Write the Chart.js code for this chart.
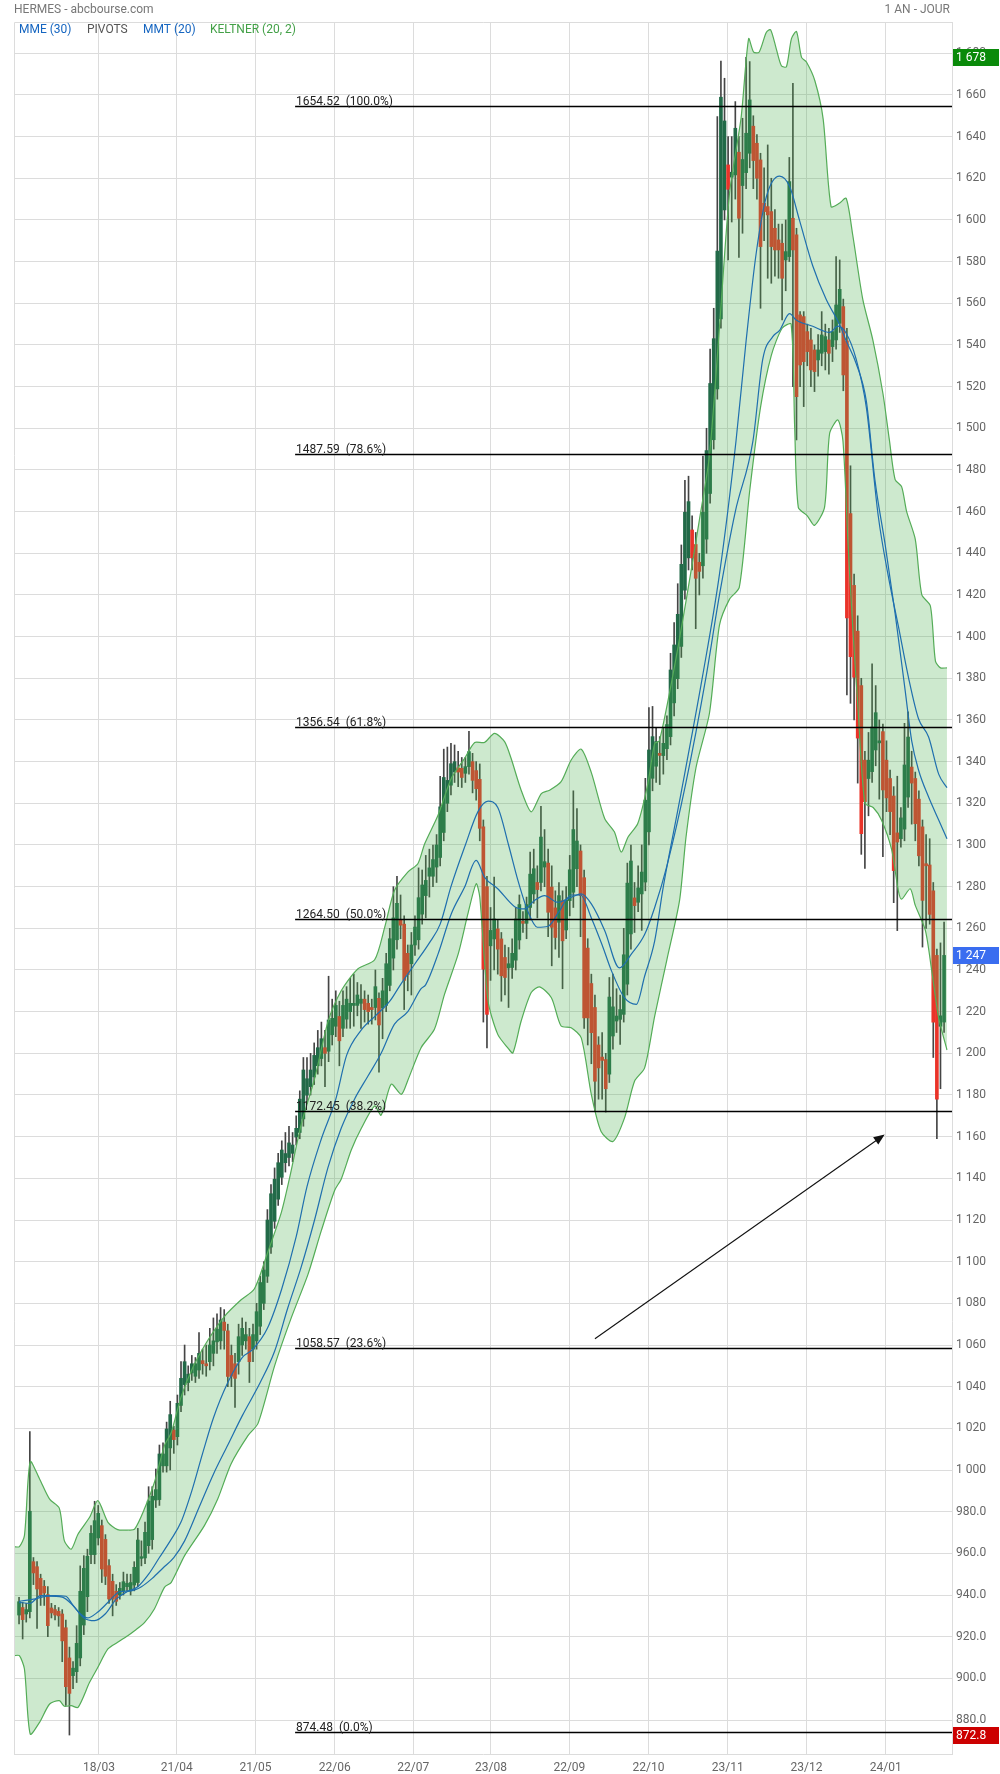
<!DOCTYPE html>
<html>
<head>
<meta charset="utf-8">
<title>HERMES - abcbourse.com</title>
<script src="https://cdn.jsdelivr.net/npm/chart.js@4.4.0/dist/chart.umd.min.js"></script>
<style>
  html, body { margin: 0; padding: 0; background: #fff; }
  #wrap { width: 1000px; height: 1774px; }
</style>
</head>
<body>
<div id="wrap"><canvas id="chart" width="1000" height="1774"></canvas></div>
<script>
// daily candles, one year
const openP = [
  930.4, 934, 930.9, 932, 956, 953.6, 948, 944.2, 940.2, 933.8,
  933, 932.2, 930.9, 924.3, 909.8, 901.3, 903.2, 909.8, 925.6, 939.2,
  959.4, 959.4, 967.4, 973.3, 966.7, 954.1, 946.6, 941.8, 940, 941.8,
  944, 942, 944.8, 946, 957.6, 957.8, 963.7, 966.6, 985.6, 985.8,
  1002, 1002, 1010.6, 1019.2, 1016, 1031, 1041, 1042, 1046.6, 1045,
  1048, 1052.5, 1051, 1052, 1056, 1061.5, 1062, 1071, 1066.8, 1055,
  1051, 1052, 1060, 1062, 1064, 1058, 1062, 1069, 1080, 1093,
  1107, 1119.4, 1130, 1140.5, 1147.5, 1150, 1152, 1159.8, 1162, 1168.5,
  1179.9, 1184, 1188.7, 1194, 1197.5, 1202.7, 1201, 1208.9, 1213, 1217.7,
  1212, 1216.4, 1220, 1223, 1223, 1224, 1226, 1224, 1222, 1222,
  1226.4, 1221.7, 1223, 1232.6, 1245.7, 1254.5, 1264, 1262, 1248, 1243,
  1252, 1254.5, 1266.8, 1275.7, 1285, 1285, 1289.4, 1294, 1306, 1320,
  1328.7, 1335, 1337, 1336.8, 1334.4, 1337.6, 1340, 1335.7, 1331.5, 1308.7,
  1280, 1251.6, 1254.9, 1259.7, 1254.9, 1246, 1241, 1241.2, 1244.7, 1254.4,
  1263.4, 1262.4, 1270, 1276.5, 1282, 1282, 1289.4, 1291.3, 1279.8, 1269.8,
  1262.9, 1273.3, 1259.2, 1273.3, 1277.3, 1288.6, 1297.1, 1284.3, 1250.5, 1233.5,
  1222, 1204, 1198.2, 1197, 1190, 1208.3, 1215.5, 1216.3, 1218.7, 1233.2,
  1257.3, 1274.6, 1272.5, 1276.5, 1282.2, 1306.3, 1332, 1337.8, 1344, 1342.9,
  1346.2, 1352, 1368.2, 1379.8, 1395.3, 1422.3, 1437.8, 1451.2, 1444.2, 1435.7,
  1434, 1446.8, 1468.7, 1494.5, 1518.9, 1552.5, 1604.8, 1626.4, 1620.5, 1621.6,
  1632.5, 1616.5, 1622.7, 1632, 1645, 1636.8, 1628.8, 1608, 1606.4, 1604,
  1596, 1590.4, 1588.8, 1580.8, 1582.4, 1600.8, 1592.8, 1554.4, 1553.6, 1546.4,
  1542.4, 1537.6, 1532.8, 1536, 1536.8, 1542.4, 1539.2, 1542.4, 1550.4, 1558.4,
  1542, 1459, 1424.6, 1402.6, 1376.5, 1340.7, 1331.9, 1335.2, 1345.6, 1349,
  1354.4, 1340.7, 1331.9, 1323.5, 1305.8, 1303, 1307.6, 1323, 1337.4, 1331.9,
  1322, 1308.7, 1291, 1290.4, 1278, 1247, 1213, 1215
];
const highP = [
  938.9, 936.5, 936, 1018.4, 958, 956, 950, 947, 944, 936,
  935, 934, 933, 928, 915, 908, 925.3, 954, 958.9, 962,
  973.3, 985, 983, 976, 969, 957, 950, 945, 946, 951,
  950, 950, 956, 972, 966, 975, 992, 992, 1000.5, 1012,
  1013, 1023, 1033, 1021, 1036, 1052, 1060, 1050, 1055, 1054,
  1066, 1058, 1060, 1068, 1073, 1075, 1078, 1077, 1070, 1060,
  1056, 1070, 1073, 1071, 1068, 1070, 1080, 1093, 1100, 1125,
  1137, 1145, 1152, 1158, 1162, 1165, 1162, 1170, 1182, 1198,
  1198, 1200, 1205, 1211, 1215, 1211, 1237, 1226, 1230, 1225,
  1230, 1232, 1236, 1238, 1234, 1233, 1230, 1228, 1226, 1240,
  1229, 1236, 1248, 1260, 1280, 1285, 1276, 1266, 1252, 1258,
  1266, 1289, 1288, 1295, 1298, 1300, 1305, 1333, 1346, 1347,
  1348.8, 1348, 1345, 1342, 1342, 1354.5, 1344, 1340, 1338.9, 1312,
  1285, 1270, 1284.6, 1264, 1258, 1252, 1250.8, 1255, 1270, 1276,
  1268, 1275, 1296.6, 1298, 1290, 1318.6, 1307.4, 1298, 1290, 1278,
  1282, 1278, 1280, 1295, 1326, 1317.5, 1300, 1288, 1255, 1238,
  1228, 1208, 1210, 1200, 1236.4, 1238, 1231, 1228, 1260, 1291.3,
  1300, 1282, 1290, 1300, 1332, 1366, 1366.5, 1356, 1352, 1356,
  1362, 1392, 1406.8, 1425.4, 1444, 1475, 1477, 1458, 1450, 1440,
  1486.7, 1500, 1538, 1557.6, 1649.6, 1676.2, 1668, 1640, 1640, 1656.8,
  1640, 1648.8, 1678, 1676, 1650, 1641, 1632, 1625, 1636, 1620,
  1605, 1598, 1598, 1600, 1630, 1665.6, 1596, 1556, 1556, 1550,
  1548, 1540, 1545, 1556, 1550, 1548, 1552, 1582.4, 1580.8, 1562,
  1548, 1482, 1430, 1410, 1380, 1345, 1354, 1387, 1376.5, 1360,
  1358, 1350, 1336, 1328, 1333, 1318, 1358.4, 1363.9, 1345, 1335,
  1326, 1312, 1305, 1303, 1282, 1250, 1253, 1263
];
const lowP = [
  926.1, 918.9, 927, 929, 945, 924, 935, 935, 920, 929,
  928, 925, 908, 887, 872.8, 895, 898, 906, 921, 932,
  955, 955, 964, 946, 945, 936, 930, 935, 938, 940,
  942, 940, 942, 944, 954, 955, 960, 962, 982, 983,
  999, 999, 1000, 1008, 1012, 1028, 1036, 1038, 1043, 1042,
  1044, 1046, 1045, 1048, 1050, 1056, 1058, 1058, 1040, 1040,
  1030, 1046, 1055, 1058, 1042, 1052, 1058, 1065, 1077, 1090,
  1104, 1116, 1127, 1137, 1143, 1146, 1148, 1156, 1159, 1165,
  1176, 1180, 1185, 1190, 1194, 1184, 1196, 1204, 1208, 1194,
  1208, 1212, 1212, 1213, 1218, 1212, 1215, 1214, 1214, 1216,
  1191, 1207, 1220, 1230, 1240, 1250, 1255, 1221, 1230, 1228,
  1247, 1250, 1262, 1265, 1275, 1280, 1282, 1290, 1302, 1316,
  1324, 1330, 1328, 1327.6, 1330, 1334, 1325, 1321.5, 1302, 1215,
  1202.6, 1235, 1240, 1238, 1225, 1228, 1222, 1236, 1240, 1250,
  1258, 1255, 1264, 1272, 1265, 1278, 1280, 1256, 1242, 1250,
  1246, 1231, 1255, 1266, 1270, 1280, 1256, 1212, 1204, 1195,
  1172, 1178, 1178, 1171.8, 1186, 1202, 1210, 1204.3, 1215, 1228,
  1250, 1258, 1268, 1259, 1278, 1300, 1326, 1330, 1329, 1334,
  1341, 1348, 1362, 1375, 1390, 1418, 1432, 1432, 1403.8, 1420,
  1428, 1440, 1464, 1490, 1514, 1548, 1600, 1580.8, 1599, 1610,
  1582, 1593.6, 1615, 1625, 1615, 1610, 1557.6, 1590, 1572, 1569.6,
  1573, 1572, 1552, 1566, 1580, 1520, 1494.4, 1520, 1510.4, 1530,
  1520, 1517.6, 1525, 1530, 1528, 1526, 1532, 1538, 1546, 1518,
  1372, 1368, 1360, 1329.7, 1295.5, 1288.8, 1314, 1330, 1338, 1322,
  1294.4, 1316, 1305, 1272.3, 1258.9, 1299, 1302, 1318, 1310, 1302,
  1290, 1251, 1260, 1262, 1198, 1159, 1183, 1210
];
const closeP = [
  936.8, 928.2, 933, 980.2, 950.6, 942.9, 939.7, 941, 925.3, 931.4,
  930.4, 930, 918, 896, 892.8, 904.9, 916.8, 941.8, 952.8, 958.6,
  969.6, 975.7, 979.2, 952.5, 949, 938.1, 938.1, 937, 943.2, 946.4,
  945.6, 946, 953.3, 966.4, 958.4, 970.1, 985.1, 987.4, 990.6, 1007.7,
  1007.7, 1019.7, 1026.6, 1014.6, 1032, 1044, 1052, 1046, 1051, 1051,
  1056, 1051, 1050, 1060, 1062, 1067.6, 1072, 1067, 1044.9, 1045,
  1044, 1064, 1068, 1065, 1052, 1065, 1076, 1090, 1096, 1120,
  1132.6, 1139.6, 1147.5, 1153.6, 1151.9, 1157, 1156, 1164, 1178, 1192,
  1187.8, 1192, 1199, 1202.7, 1207, 1200, 1216, 1216.8, 1223, 1206,
  1223, 1226, 1224, 1224, 1228, 1226, 1221, 1220, 1221, 1232,
  1213.6, 1230, 1243, 1255, 1265, 1272, 1261.5, 1235, 1237.8, 1252,
  1260.6, 1274.7, 1280.8, 1283, 1289, 1293, 1300, 1318.3, 1332.4, 1331,
  1339, 1340, 1335, 1332.4, 1337.6, 1344.8, 1331, 1327, 1308, 1240.4,
  1218.7, 1259, 1264.5, 1250, 1237.2, 1236.4, 1243, 1248, 1264.5, 1271.4,
  1262.4, 1271.4, 1286, 1288.6, 1278.6, 1303.8, 1292, 1267.7, 1260.5, 1255.6,
  1275.7, 1254, 1273.6, 1288.1, 1307.4, 1301.9, 1275.7, 1217, 1217, 1209.9,
  1186.6, 1193, 1196.6, 1183, 1227, 1222.3, 1217.9, 1221, 1247.3, 1281.7,
  1292.3, 1270.9, 1279.4, 1287, 1321.5, 1345.6, 1352, 1349.6, 1343, 1348.8,
  1357.8, 1384, 1396, 1410.7, 1434.7, 1459.7, 1464.8, 1437.8, 1428, 1431.3,
  1459.7, 1489.3, 1521.5, 1543, 1585, 1658.9, 1647.5, 1614.7, 1622.9, 1644,
  1600.8, 1629, 1641.6, 1657.6, 1628.5, 1620, 1587.2, 1604, 1602.4, 1587.2,
  1585.6, 1585.6, 1572, 1584.8, 1618.4, 1585.6, 1515.2, 1530.4, 1532, 1536.8,
  1528, 1527.2, 1537.6, 1544.8, 1544, 1536, 1546.4, 1559.2, 1566.7, 1525.6,
  1409, 1390.4, 1380.5, 1351.3, 1305.4, 1320.8, 1340.7, 1356.6, 1363.5, 1350,
  1326.4, 1322.6, 1316, 1287.7, 1301.4, 1313, 1338.4, 1351.8, 1329.7, 1310.2,
  1294.8, 1273.4, 1290, 1266.7, 1215, 1178, 1218, 1247
];

// indicator lines: [candle index, value]
const mmeLine = [
  [0,936.5],[3,936],[6,939.7],[10,939.7],[13,939.4],[15,935],[17,931],[19,929],[22,932],[25,937],
  [28,941.6],[31,942],[34,944],[37,948],[40,953],[43,958],[46,966],[50,982],[54,998],[58,1012],
  [62,1026],[67,1042],[71,1057],[74.7,1078],[78.4,1097.5],[82.1,1120],[85.8,1145],[89.5,1164],[93.2,1178],[96.9,1189],
  [100.6,1200],[104.3,1214],[108,1220],[111.7,1231],[113,1233],[116.4,1247.6],[120.1,1267],[123.8,1279.8],[127,1292.6],[129.3,1284.6],
  [133,1279],[137.7,1270.4],[140.5,1269.3],[143.2,1273.3],[146,1275.7],[149.7,1272.5],[153.4,1274.9],[156.2,1276.5],[159,1271.7],[162.7,1259],
  [166.8,1241],[170.1,1247.6],[173.8,1257],[176.6,1270],[180,1290],[185.3,1330],[190.9,1381],[194.6,1420],[199,1460],[203.9,1494],
  [206.6,1533],[209.4,1544],[211.3,1547],[214.1,1555],[215.9,1552],[220.5,1549],[225.2,1546],[227.5,1549],[229.8,1545.6],[232.6,1533],
  [235.4,1510],[238.7,1458],[241.5,1429],[244.3,1405],[247.1,1380.5],[249.9,1360.6],[252.7,1351.8],[255.5,1334],[257.8,1327.5]
];
const mmtLine = [
  [0,937],[4,938],[8,939.5],[12,939],[15,935],[18,929],[21,927.7],[24,931],[27,938],[30,941.6],
  [33,944],[36,950],[39,958],[42,966],[45,975],[48,990],[51,1008],[54,1025],[58,1042],[62,1054],
  [65,1058],[69,1068],[73,1087],[77,1112],[80,1136],[84,1159],[88,1178],[91,1199],[95,1211],[99,1218],
  [103,1225],[106,1233],[110,1243],[114,1253],[117,1262],[120,1280],[124,1300],[127.5,1316],[130.3,1321],[133,1318],
  [136,1300],[138.6,1283],[141.4,1268],[144,1260.5],[147,1261],[150,1268],[153.4,1276],[156,1276],[159,1265],[162,1252],
  [164.5,1240],[168.2,1226.7],[171.5,1223.5],[173.8,1237],[176.6,1254],[179,1280],[183.5,1321],[189.9,1381],[194.6,1430],[199.2,1494],
  [202,1542],[204.8,1584],[207.6,1611],[211.3,1621],[214.1,1616],[216.8,1600],[220.5,1578],[224.2,1562],[227.9,1550],[229.8,1542],
  [232.6,1531],[235.4,1513],[237.8,1475],[240.6,1444.5],[243.4,1411],[246.2,1374],[248,1350],[249.9,1336],[252.7,1323],[255.5,1312],
  [257.8,1303]
];
const keltnerUp = [
  [-1.4,963.2],[0.1,963.2],[1.5,968.5],[3.1,1004],[5.7,995.7],[8.5,986],[11.2,981.6],[12.6,966],[14.5,962],[16.4,969.3],
  [19.6,977.3],[21.9,985.3],[24.7,974.9],[27.4,971.4],[30.2,971.2],[32.1,971.6],[34.9,981.6],[37.6,994],[40.4,1011.7],[42.3,1018],
  [45,1035],[48.5,1050],[52.5,1062.4],[57.1,1073.8],[61.7,1081.7],[65.4,1087],[69.1,1104.5],[72.9,1123.8],[75.2,1140.5],[78.4,1165.9],
  [82.1,1187.8],[85.8,1215],[89.5,1230],[94.1,1240.5],[98.8,1244.9],[101.6,1260.6],[104.3,1278.2],[108,1287],[110.8,1291],[112.7,1300.6],
  [116.4,1314.3],[120.1,1332],[123.8,1341.6],[126.6,1349.2],[129.3,1349.2],[132.1,1353.6],[134.9,1349.6],[136.7,1341.6],[139.5,1326.3],[142.3,1315.9],
  [145.1,1324.7],[147.4,1326.3],[150.6,1330.4],[153.4,1340.8],[156.2,1346],[159,1334.7],[162.7,1312.7],[165.4,1306.3],[167.3,1296.6],[169.2,1303.8],
  [171.9,1310.3],[174.7,1329.5],[176.6,1348.8],[177.9,1350],[181.6,1381],[185.3,1417],[189,1455.8],[191.8,1486.7],[194.6,1548.6],[197.4,1613],
  [200.6,1649],[202.7,1687],[204.1,1680.5],[205.6,1680.5],[207.6,1690],[208.8,1691.3],[210.4,1682],[211.8,1674],[213.2,1673.5],[214.6,1687],
  [216,1690.4],[217.4,1678],[218.8,1675.7],[221.1,1666.8],[223.4,1648.5],[225.6,1606.4],[227.9,1608],[229.8,1610.4],[231.6,1593],[234.4,1562],
  [237.2,1542.4],[240,1516.8],[241.8,1494.4],[243.4,1475.4],[245.2,1472],[246.6,1460],[249,1446.7],[250.8,1420.2],[253.2,1414.7],[254.6,1388.2],
  [256,1385],[257.8,1385]
];
const keltnerDown = [
  [-1.4,910.9],[0.1,910.9],[1.5,904.5],[3.1,873.3],[5.7,878.9],[8.5,887.7],[11.2,889.3],[12.6,886.6],[14.5,886.9],[16.4,886.1],
  [19.6,898.1],[21.9,905.3],[24.7,914.1],[27.4,917.3],[30.2,920.5],[32.1,922.9],[34.9,926.9],[37.6,933.3],[40.4,943.7],[42.3,946.1],
  [46,958.9],[51.5,973.3],[55.2,986.1],[58.9,1002.9],[63.6,1016.5],[66.4,1022.4],[71,1050],[75.6,1072.9],[80.3,1094],[84,1115],
  [87.7,1134.3],[89.5,1139.6],[92.3,1153.6],[95.1,1164],[98.8,1174.7],[100.6,1170.3],[103.4,1185.2],[106.2,1180.3],[108,1187],[111.7,1202.7],
  [115.4,1211.5],[118.2,1228.3],[122,1247.6],[124.7,1266.9],[127,1281.4],[128,1275],[130.3,1225.1],[133,1209.1],[135.8,1202.6],[137.2,1200.2],
  [139.5,1215.5],[142.3,1229.2],[144.6,1231.9],[147.9,1226.7],[150.6,1213.1],[153.4,1212.3],[156.2,1207.4],[159,1180.2],[161.7,1162.5],[165,1157.7],
  [168.2,1168.9],[171,1186.6],[173.8,1193],[176.6,1217.9],[180,1245],[183.5,1273.3],[185.3,1303.7],[188.1,1337.3],[191.8,1363.1],[194.6,1405.5],
  [197.4,1418],[200.1,1423.6],[203,1470],[206,1510],[209,1535],[212,1548],[214.5,1550],[215.5,1500],[216.5,1462],[219,1458],
  [221,1453.4],[223.8,1462.2],[225.2,1497.5],[227.5,1504],[228.9,1494],[230.3,1445],[231.6,1405],[233.1,1365],[235,1320],[237.3,1318],
  [239.6,1312],[242.4,1298],[244.3,1278],[245.2,1274],[247.6,1279],[249,1271],[251.8,1259],[253.6,1239.2],[255.5,1217],[257.8,1201.6]
];

// retracement levels and annotations
const fibLevels = [1654.52, 1487.59, 1356.54, 1264.50, 1172.45, 1058.57, 874.48];
const fibPct = [100.0, 78.6, 61.8, 50.0, 38.2, 23.6, 0.0];
const fibStartIdx = 76.7;
const arrowFrom = [160, 1063];
const arrowTo = [240.5, 1161];

// x axis dates
const tickPos = [22.2, 43.8, 65.7, 87.7, 109.5, 131.1, 152.9, 174.9, 196.9, 218.8, 240.8];
const tickLabels = ['18/03', '21/04', '21/05', '22/06', '22/07', '23/08', '22/09', '22/10', '23/11', '23/12', '24/01'];

const GREEN = '#226a48';
const RED = '#ea3329';
const WICK = '#454545';
const BLUE = '#1f6fae';
const KGREEN = '#55ac58';

const fmt = (v) => {
  if (v >= 1000) {
    const r = Math.round(v);
    return Math.floor(r / 1000) + ' ' + String(r % 1000).padStart(3, '0');
  }
  return v.toFixed(1);
};

const bodies = openP.map((o, i) => ({ x: i, y: [o, closeP[i]] }));
const wicks = lowP.map((l, i) => ({ x: i, y: [l, highP[i]] }));
const pts = (arr) => arr.map(p => ({ x: p[0], y: p[1] }));

const maxHigh = Math.max(...highP);
const minLow = Math.min(...lowP);
const lastClose = closeP[closeP.length - 1];
const tags = [
  { v: maxHigh, color: '#0a8a0a' },
  { v: lastClose, color: '#3a6df0' },
  { v: minLow, color: '#cc0000' }
];

Chart.defaults.font.family = 'Roboto, "Noto Sans", sans-serif';
Chart.defaults.font.size = 12;

const overlay = {
  id: 'overlay',
  afterDatasetsDraw(chart) {
    const { ctx, chartArea: a, scales: { x, y } } = chart;
    ctx.save();
    ctx.beginPath();
    ctx.rect(a.left, a.top, a.right - a.left, a.bottom - a.top);
    ctx.clip();

    // fibonacci lines with labels
    const px0 = x.getPixelForValue(fibStartIdx);
    ctx.font = '12px Roboto';
    ctx.textBaseline = 'alphabetic';
    ctx.textAlign = 'left';
    fibLevels.forEach((v, k) => {
      const py = Math.round(y.getPixelForValue(v)) + 0.5;
      ctx.strokeStyle = '#000';
      ctx.lineWidth = 1.3;
      ctx.beginPath();
      ctx.moveTo(px0, py);
      ctx.lineTo(a.right, py);
      ctx.stroke();
      ctx.fillStyle = '#222';
      ctx.fillText(v.toFixed(2) + '  (' + fibPct[k].toFixed(1) + '%)', px0 + 1, py - 1.5);
    });

    // arrow
    const ax0 = x.getPixelForValue(arrowFrom[0]), ay0 = y.getPixelForValue(arrowFrom[1]);
    const ax1 = x.getPixelForValue(arrowTo[0]), ay1 = y.getPixelForValue(arrowTo[1]);
    const ang = Math.atan2(ay1 - ay0, ax1 - ax0);
    ctx.strokeStyle = '#111';
    ctx.lineWidth = 1.1;
    ctx.beginPath();
    ctx.moveTo(ax0, ay0);
    ctx.lineTo(ax1 - 6 * Math.cos(ang), ay1 - 6 * Math.sin(ang));
    ctx.stroke();
    ctx.fillStyle = '#111';
    ctx.beginPath();
    ctx.moveTo(ax1, ay1);
    ctx.lineTo(ax1 - 11 * Math.cos(ang) + 4.5 * Math.sin(ang), ay1 - 11 * Math.sin(ang) - 4.5 * Math.cos(ang));
    ctx.lineTo(ax1 - 11 * Math.cos(ang) - 4.5 * Math.sin(ang), ay1 - 11 * Math.sin(ang) + 4.5 * Math.cos(ang));
    ctx.closePath();
    ctx.fill();
    ctx.restore();
  },
  afterDraw(chart) {
    const { ctx, chartArea: a, scales: { y } } = chart;
    ctx.save();
    // frame on left and top
    ctx.strokeStyle = '#dcdcdc';
    ctx.lineWidth = 1;
    ctx.beginPath();
    ctx.moveTo(a.left + 0.5, a.bottom);
    ctx.lineTo(a.left + 0.5, a.top + 0.5);
    ctx.lineTo(a.right, a.top + 0.5);
    ctx.stroke();

    // header
    ctx.font = '12px Roboto';
    ctx.textBaseline = 'alphabetic';
    ctx.fillStyle = '#777';
    ctx.textAlign = 'left';
    ctx.fillText('HERMES - abcbourse.com', 14, 13);
    ctx.textAlign = 'right';
    ctx.fillText('1 AN - JOUR', 950, 13);

    // indicator legend
    ctx.textAlign = 'left';
    const legend = [
      ['MME (30)', '#1565c0', 19],
      ['PIVOTS', '#555', 87],
      ['MMT (20)', '#1565c0', 143],
      ['KELTNER (20, 2)', '#43a047', 210]
    ];
    legend.forEach(([t, c, lx]) => { ctx.fillStyle = c; ctx.fillText(t, lx, 33); });

    // price tags on the right axis
    ctx.textBaseline = 'middle';
    tags.forEach(t => {
      const py = y.getPixelForValue(t.v);
      ctx.fillStyle = t.color;
      ctx.fillRect(a.right + 1, Math.round(py - 8.5), 46, 17);
      ctx.fillStyle = '#fff';
      ctx.fillText(fmt(t.v), a.right + 4, py + 0.5);
    });
    ctx.restore();
  }
};

new Chart(document.getElementById('chart'), {
  type: 'bar',
  data: {
    datasets: [
      { type: 'line', label: 'MMT (20)', data: pts(mmtLine), borderColor: BLUE, borderWidth: 1.2,
        pointRadius: 0, cubicInterpolationMode: 'monotone', fill: false, order: 0 },
      { type: 'line', label: 'MME (30)', data: pts(mmeLine), borderColor: BLUE, borderWidth: 1.2,
        pointRadius: 0, cubicInterpolationMode: 'monotone', fill: false, order: 0 },
      { type: 'line', label: 'Keltner haut', data: pts(keltnerUp), borderColor: KGREEN, borderWidth: 1.2,
        pointRadius: 0, tension: 0.25, fill: { target: '+1' }, backgroundColor: 'rgba(76,175,80,0.28)', order: 1 },
      { type: 'line', label: 'Keltner bas', data: pts(keltnerDown), borderColor: KGREEN, borderWidth: 1.2,
        pointRadius: 0, tension: 0.25, fill: false, order: 1 },
      { label: 'corps', data: bodies, grouped: false, barThickness: 3, borderWidth: 0, order: 2,
        backgroundColor: (c) => (c.raw && c.raw.y[1] >= c.raw.y[0]) ? GREEN : RED },
      { label: 'meches', data: wicks, grouped: false, barThickness: 1, borderWidth: 0, order: 3,
        backgroundColor: WICK }
    ]
  },
  options: {
    responsive: false,
    animation: false,
    devicePixelRatio: 1,
    layout: { padding: { left: 14, top: 22, right: 0, bottom: 0 } },
    plugins: { legend: { display: false }, tooltip: { enabled: false } },
    scales: {
      x: {
        type: 'linear',
        min: -1.4,
        max: 259.2,
        offset: false,
        grid: { color: '#dcdcdc', offset: false, drawTicks: false },
        border: { display: true, color: '#dcdcdc' },
        afterBuildTicks: (s) => { s.ticks = tickPos.map(v => ({ value: v })); },
        afterFit: (s) => { s.height = 20; },
        ticks: {
          autoSkip: false, maxRotation: 0, padding: 7, color: '#666',
          font: { size: 12 },
          callback: (v, i) => tickLabels[i]
        }
      },
      y: {
        position: 'right',
        min: 863.7,
        max: 1695,
        beginAtZero: false,
        grid: { color: '#dcdcdc', drawTicks: false },
        border: { display: true, color: '#dcdcdc' },
        afterBuildTicks: (s) => { s.ticks = s.ticks.filter(t => Math.abs(t.value % 20) < 1e-6); },
        afterFit: (s) => { s.width = 48; },
        ticks: {
          stepSize: 20, includeBounds: false, padding: 4, color: '#666',
          font: { size: 12 },
          callback: (v) => fmt(v)
        }
      }
    }
  },
  plugins: [overlay]
});
</script>
</body>
</html>
